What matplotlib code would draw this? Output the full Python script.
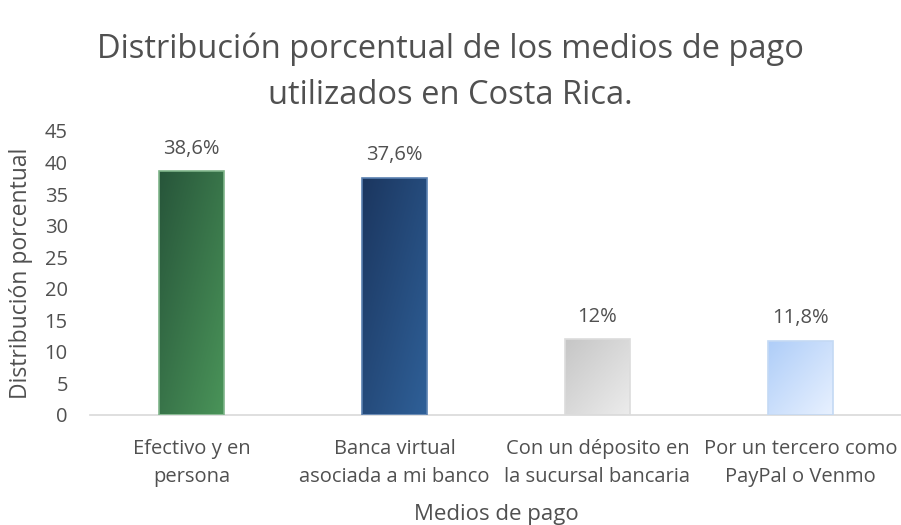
import numpy as np
import matplotlib
matplotlib.use("Agg")
import matplotlib.pyplot as plt
from matplotlib.colors import LinearSegmentedColormap

categories = ["Efectivo y en\npersona", "Banca virtual\nasociada a mi banco",
              "Con un déposito en\nla sucursal bancaria", "Por un tercero como\nPayPal o Venmo"]
values = [38.6, 37.6, 12.0, 11.8]
value_labels = ["38,6%", "37,6%", "12%", "11,8%"]
yticks = [0, 5, 10, 15, 20, 25, 30, 35, 40, 45]

grad_colors = [("#27553a", "#4a9459"), ("#1b365f", "#2f6098"),
               ("#c6c6c6", "#ececec"), ("#aecdf8", "#e8f1ff")]
edge_colors = ["#7fb58a", "#5a80b0", "#dcdcdc", "#c4d9f4"]
txt = "#505050"

plt.rcParams['font.family'] = ['Open Sans', 'DejaVu Sans']
fig = plt.figure(figsize=(9.01, 5.25), dpi=100)
ax = fig.add_axes([90/901, 1-415/525, 812/901, (415-131)/525])

x = np.arange(len(categories))
width = 0.32
bars = ax.bar(x, values, width=width, color="none", edgecolor="none", zorder=2)

yy, xx = np.mgrid[0:1:100j, 0:1:100j]
tt = (xx + (1 - yy)) / 2
for b, (c0, c1), ec in zip(bars, grad_colors, edge_colors):
    cmap = LinearSegmentedColormap.from_list("g", [c0, c1])
    x0, y0 = b.get_x(), b.get_y()
    w, h = b.get_width(), b.get_height()
    im = ax.imshow(tt, cmap=cmap, extent=[x0, x0 + w, y0, y0 + h], origin="lower",
                   aspect="auto", zorder=2, interpolation="bilinear", vmin=0, vmax=1)
    im.set_clip_path(b)
    ax.add_patch(plt.Rectangle((x0, y0), w, h, fill=False, edgecolor=ec, lw=1.2, zorder=3))

for xi, v, lab in zip(x, values, value_labels):
    ax.text(xi, v + 2.0, lab, ha="center", va="bottom", fontsize=14.5, color=txt)

ax.set_xlim(-0.5, 3.5)
ax.set_ylim(0, 45)
ax.set_yticks(yticks)
ax.set_xticks(x)
ax.set_xticklabels(categories, fontsize=14.5, color=txt, linespacing=1.55)
ax.tick_params(axis="y", labelsize=14.5, colors=txt, length=0, pad=16)
ax.tick_params(axis="x", length=0, pad=17)
for s in ["top", "right", "left"]:
    ax.spines[s].set_visible(False)
ax.spines["bottom"].set_color("#d9d9d9")
ax.spines["bottom"].set_linewidth(1.2)

ax.set_ylabel("Distribución porcentual", fontsize=16.5, color=txt)
ax.yaxis.set_label_coords(-0.070, 0.5)
ax.set_xlabel("Medios de pago", fontsize=16, color=txt, labelpad=12)
fig.text(0.5, 1 - 72.5/525, "Distribución porcentual de los medios de pago\nutilizados en Costa Rica.",
         ha="center", va="center", fontsize=23.5, color=txt, linespacing=1.5)

fig.savefig("out.png", dpi=100)
